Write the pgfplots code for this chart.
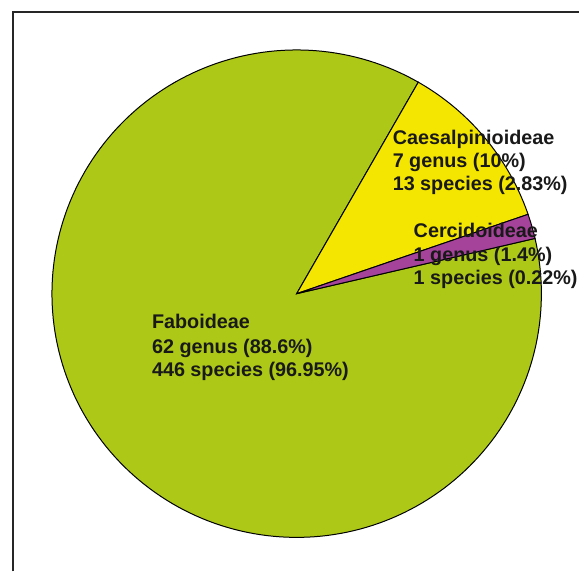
\documentclass[border=0pt]{standalone}
\usepackage{pgfplots}
\pgfplotsset{compat=1.18}
\usepackage{fontspec}
\setmainfont{Liberation Sans}
\definecolor{fabo}{RGB}{173,200,22}
\definecolor{caes}{RGB}{244,230,0}
\definecolor{cerc}{RGB}{165,67,155}
\definecolor{txt}{RGB}{25,25,25}
\begin{document}
\begin{tikzpicture}
\begin{axis}[
  width=580pt, height=572pt, scale only axis,
  xmin=0, xmax=580, ymin=0, ymax=572,
  axis line style={draw=none}, ticks=none,
  clip=false,
]
% slice boundaries in degrees (counter-clockwise from east)
% Cercidoideae: 13.1 -- 19.0 ; Caesalpinioideae: 19.0 -- 60.2 ; Faboideae: 60.2 -- 373.1
\addplot[fill=fabo, draw=black, line width=1pt, domain=60.2:373.1, samples=200]
  ({297+245*cos(x)},{278+244*sin(x)}) -- (axis cs:297,278) -- cycle;
\addplot[fill=caes, draw=black, line width=1pt, domain=19.0:60.2, samples=40]
  ({297+245*cos(x)},{278+244*sin(x)}) -- (axis cs:297,278) -- cycle;
\addplot[fill=cerc, draw=black, line width=1pt, domain=13.1:19.0, samples=10]
  ({297+245*cos(x)},{278+244*sin(x)}) -- (axis cs:297,278) -- cycle;
% frame
\draw[black!85, line width=1.3pt] (axis cs:13,0) -- (axis cs:13,560) -- (axis cs:580,560);
% labels
\begin{scope}[every node/.style={anchor=base west, inner sep=0pt, text=txt, font=\fontsize{19.8}{22}\selectfont\bfseries}]
\node at (axis cs:393,427) {Caesalpinioideae};
\node at (axis cs:393,404) {7 genus (10\%)};
\node at (axis cs:393,381) {13 species (2.83\%)};
\node at (axis cs:414,334) {Cercidoideae};
\node at (axis cs:414,310) {1 genus (1.4\%)};
\node at (axis cs:414,287) {1 species (0.22\%)};
\node at (axis cs:152,243) {Faboideae};
\node at (axis cs:152,218) {62 genus (88.6\%)};
\node at (axis cs:152,195) {446 species (96.95\%)};
\end{scope}
\end{axis}
\end{tikzpicture}
\end{document}
